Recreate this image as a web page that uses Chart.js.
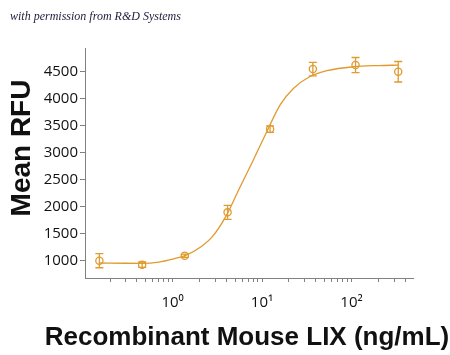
<!DOCTYPE html>
<html><head><meta charset="utf-8">
<script src="https://cdn.jsdelivr.net/npm/chart.js@4/dist/chart.umd.min.js"></script>
<style>html,body{margin:0;padding:0;background:#fff;}#wrap{width:450px;height:355px;position:relative}</style>
</head><body><div id="wrap"><canvas id="c" width="450" height="355"></canvas></div>
<script>
// Measured points (ng/mL) and Mean RFU with error bars
const concentrations = [0.152, 0.457, 1.37, 4.12, 12.3, 37.0, 111, 333];
const meanRFU = [1000, 926, 1092, 1896, 3439, 4550, 4624, 4500];
const errorRFU = [130, 50, 30, 130, 60, 125, 140, 190];
// Fitted curve
const fitX = [0.152, 0.3, 0.457, 0.7, 1.0, 1.4, 2.1, 2.8, 4.0, 5.7, 8.0, 11.3, 16, 22.4, 34, 53, 105, 200, 333];
const fitY = [958, 953, 952, 975, 1030, 1100, 1265, 1450, 1840, 2370, 2865, 3390, 3890, 4190, 4407, 4519, 4593, 4615, 4622];
// Ticks
const xTickValues = [0.2,0.3,0.4,0.5,0.6,0.7,0.8,0.9,1,2,3,4,5,6,7,8,9,10,20,30,40,50,60,70,80,90,100,200,300,400];
const xTickLabels = {1:'10\u2070', 10:'10\u00B9', 100:'10\u00B2'};
const yTickValues = [1000,1500,2000,2500,3000,3500,4000,4500];
const xTitle = 'Recombinant Mouse LIX (ng/mL)';
const yTitle = 'Mean RFU';
const credit = 'with permission from R&D Systems';

const ORANGE = '#E09A2E';
const AXIS = '#808080';

const errorBars = {
  id: 'errorBars',
  afterDatasetsDraw(chart) {
    const xs = chart.scales.x, ys = chart.scales.y, ctx = chart.ctx;
    ctx.save();
    ctx.strokeStyle = ORANGE; ctx.lineWidth = 1.3;
    for (let i = 0; i < concentrations.length; i++) {
      const x = xs.getPixelForValue(concentrations[i]);
      const yt = ys.getPixelForValue(meanRFU[i] + errorRFU[i]);
      const yb = ys.getPixelForValue(meanRFU[i] - errorRFU[i]);
      ctx.beginPath();
      ctx.moveTo(x, yt); ctx.lineTo(x, yb);
      ctx.moveTo(x - 4, yt); ctx.lineTo(x + 4, yt);
      ctx.moveTo(x - 4, yb); ctx.lineTo(x + 4, yb);
      ctx.stroke();
    }
    ctx.restore();
  }
};

const titles = {
  id: 'titles',
  afterDraw(chart) {
    const ctx = chart.ctx;
    ctx.save();
    ctx.fillStyle = '#111';
    ctx.font = 'bold 26px "Liberation Sans", Arial, sans-serif';
    ctx.textAlign = 'center'; ctx.textBaseline = 'alphabetic';
    ctx.fillText(xTitle, 247, 345);
    ctx.translate(30, 148);
    ctx.rotate(-Math.PI / 2);
    ctx.font = 'bold 28px "Liberation Sans", Arial, sans-serif';
    ctx.fillText(yTitle, 0, 0);
    ctx.restore();
    ctx.save();
    ctx.fillStyle = '#1c1c3c';
    ctx.font = 'italic 12px "Liberation Serif", serif';
    ctx.textAlign = 'left'; ctx.textBaseline = 'alphabetic';
    ctx.fillText(credit, 10, 20);
    ctx.restore();
  }
};

new Chart(document.getElementById('c'), {
  type: 'scatter',
  data: {
    datasets: [
      {
        type: 'line',
        data: fitX.map((x, i) => ({x, y: fitY[i]})),
        borderColor: ORANGE, borderWidth: 1.3, pointRadius: 0,
        fill: false, cubicInterpolationMode: 'monotone'
      },
      {
        data: concentrations.map((x, i) => ({x, y: meanRFU[i]})),
        borderColor: ORANGE, backgroundColor: 'rgba(0,0,0,0)',
        pointRadius: 3.6, pointBorderWidth: 1.3, pointStyle: 'circle'
      }
    ]
  },
  options: {
    responsive: false, devicePixelRatio: 1, animation: false,
    layout: {padding: {left: 0, right: 37, top: 48, bottom: 0}},
    plugins: {legend: {display: false}, tooltip: {enabled: false}},
    scales: {
      x: {
        type: 'logarithmic', min: 0.105, max: 487,
        afterBuildTicks: s => { s.ticks = xTickValues.map(v => ({value: v})); },
        afterFit: s => { s.height = 77; },
        ticks: {
          autoSkip: false, maxRotation: 0, minRotation: 0, padding: 12,
          color: '#111', font: {family: '"Open Sans", sans-serif', size: 15},
          callback: v => xTickLabels[v] || ''
        },
        grid: {drawOnChartArea: false, tickLength: 4, color: AXIS, tickColor: AXIS},
        border: {color: AXIS, width: 1}
      },
      y: {
        type: 'linear', min: 680, max: 4940,
        afterBuildTicks: s => { s.ticks = yTickValues.map(v => ({value: v})); },
        afterFit: s => { s.width = 85; },
        ticks: {
          padding: 2, color: '#111', font: {family: '"Open Sans", sans-serif', size: 15},
          callback: v => String(v)
        },
        grid: {drawOnChartArea: false, tickLength: 5, color: AXIS, tickColor: AXIS},
        border: {color: AXIS, width: 1}
      }
    }
  },
  plugins: [errorBars, titles]
});
</script></body></html>
